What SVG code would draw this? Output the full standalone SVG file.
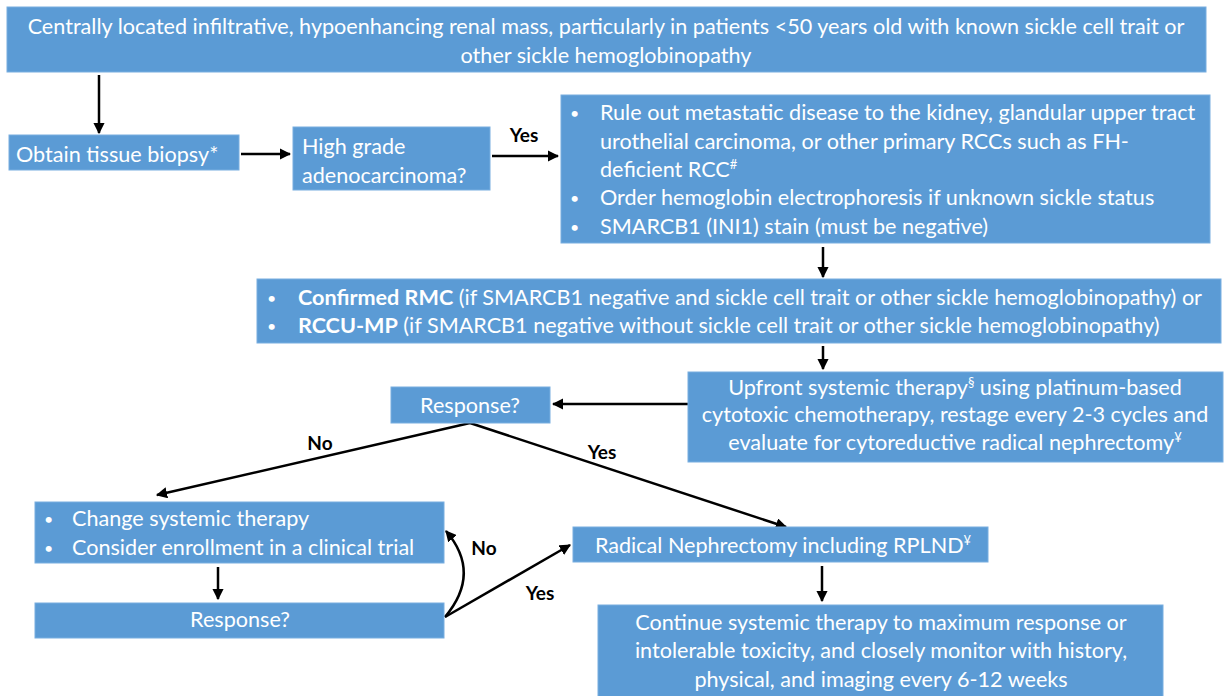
<svg xmlns="http://www.w3.org/2000/svg" width="1231" height="696" viewBox="0 0 1231 696">
<defs>
<style>
.box{fill:#5B9BD5;stroke:#79AEE0;stroke-width:1}
.t{font-family:Lato,"Liberation Sans",sans-serif;font-size:21.6px;fill:#FFFFFF}
.bu{font-family:Lato,"Liberation Sans",sans-serif;font-size:16px;fill:#FFFFFF}
.c{text-anchor:middle}
.b{font-weight:bold}
.sup{font-size:13px}
.lbl{font-family:Lato,"Liberation Sans",sans-serif;font-size:19px;font-weight:bold;fill:#000000}
.ln{stroke:#000000;stroke-width:2.5;fill:none}
</style>
<marker id="ah" viewBox="0 0 10 10" refX="9" refY="5" markerWidth="4.5" markerHeight="4.5" orient="auto" markerUnits="strokeWidth">
<path d="M0,0 L10,5 L0,10 z" fill="#000000"/>
</marker>
</defs>
<rect width="1231" height="696" fill="#FFFFFF"/>

<g id="connectors">
<line class="ln" x1="99" y1="75" x2="99" y2="133" marker-end="url(#ah)"/>
<line class="ln" x1="241" y1="154" x2="290" y2="154" marker-end="url(#ah)"/>
<line class="ln" x1="492" y1="156" x2="558" y2="156" marker-end="url(#ah)"/>
<line class="ln" x1="823" y1="247" x2="823" y2="277" marker-end="url(#ah)"/>
<line class="ln" x1="823" y1="346" x2="823" y2="369" marker-end="url(#ah)"/>
<line class="ln" x1="688" y1="404" x2="553" y2="404" marker-end="url(#ah)"/>
<line class="ln" x1="470" y1="423" x2="157" y2="495" marker-end="url(#ah)"/>
<line class="ln" x1="470" y1="423" x2="786" y2="527" marker-end="url(#ah)"/>
<line class="ln" x1="218" y1="567" x2="218" y2="599" marker-end="url(#ah)"/>
<path class="ln" d="M445,617 Q482,573 446,531" marker-end="url(#ah)"/>
<line class="ln" x1="445" y1="617" x2="570" y2="545" marker-end="url(#ah)"/>
<line class="ln" x1="822" y1="566" x2="822" y2="601" marker-end="url(#ah)"/>
<text class="lbl" x="524" y="142" text-anchor="middle">Yes</text>
<text class="lbl" x="320" y="450" text-anchor="middle">No</text>
<text class="lbl" x="602" y="459" text-anchor="middle">Yes</text>
<text class="lbl" x="484" y="555" text-anchor="middle">No</text>
<text class="lbl" x="540" y="600" text-anchor="middle">Yes</text>
</g>

<g id="node-presentation">
<rect class="box" x="7" y="7" width="1199" height="65"/>
<text class="t c" x="606" y="34">Centrally located infiltrative, hypoenhancing renal mass, particularly in patients &lt;50 years old with known sickle cell trait or</text>
<text class="t c" x="606" y="63">other sickle hemoglobinopathy</text>
</g>

<g id="node-biopsy">
<rect class="box" x="9" y="135" width="230" height="35"/>
<text class="t" x="16" y="162">Obtain tissue biopsy*</text>
</g>

<g id="node-highgrade">
<rect class="box" x="293" y="127" width="197" height="63"/>
<text class="t" x="302" y="154">High grade</text>
<text class="t" x="302" y="183">adenocarcinoma?</text>
</g>

<g id="node-ruleout">
<rect class="box" x="561" y="95" width="649" height="148"/>
<text class="bu" x="570" y="119">•</text>
<text class="t" x="600" y="120">Rule out metastatic disease to the kidney, glandular upper tract</text>
<text class="t" x="600" y="149">urothelial carcinoma, or other primary RCCs such as FH-</text>
<text class="t" x="600" y="177">deficient RCC<tspan class="sup" dy="-8">#</tspan></text>
<text class="bu" x="570" y="204">•</text>
<text class="t" x="600" y="205">Order hemoglobin electrophoresis if unknown sickle status</text>
<text class="bu" x="570" y="233">•</text>
<text class="t" x="600" y="234">SMARCB1 (INI1) stain (must be negative)</text>
</g>

<g id="node-confirmed">
<rect class="box" x="257" y="279" width="964" height="64"/>
<text class="bu" x="267" y="304">•</text>
<text class="t" x="298" y="305"><tspan class="b">Confirmed RMC</tspan> (if SMARCB1 negative and sickle cell trait or other sickle hemoglobinopathy) or</text>
<text class="bu" x="267" y="332">•</text>
<text class="t" x="298" y="333"><tspan class="b">RCCU-MP</tspan> (if SMARCB1 negative without sickle cell trait or other sickle hemoglobinopathy)</text>
</g>

<g id="node-upfront">
<rect class="box" x="688" y="372" width="535" height="90"/>
<text class="t c" x="955" y="395">Upfront systemic therapy<tspan class="sup" dy="-8">§</tspan><tspan dy="8"> using platinum-based</tspan></text>
<text class="t c" x="955" y="422">cytotoxic chemotherapy, restage every 2-3 cycles and</text>
<text class="t c" x="955" y="450">evaluate for cytoreductive radical nephrectomy<tspan class="sup" dy="-8">¥</tspan></text>
</g>

<g id="node-response1">
<rect class="box" x="391" y="387" width="159" height="36"/>
<text class="t c" x="470" y="413">Response?</text>
</g>

<g id="node-change">
<rect class="box" x="35" y="502" width="409" height="61"/>
<text class="bu" x="44" y="525">•</text>
<text class="t" x="72" y="526">Change systemic therapy</text>
<text class="bu" x="44" y="554">•</text>
<text class="t" x="72" y="555">Consider enrollment in a clinical trial</text>
</g>

<g id="node-response2">
<rect class="box" x="35" y="603" width="409" height="35"/>
<text class="t c" x="240" y="627">Response?</text>
</g>

<g id="node-radical">
<rect class="box" x="573" y="527" width="415" height="35"/>
<text class="t c" x="783" y="553">Radical Nephrectomy including RPLND<tspan class="sup" dy="-8">¥</tspan></text>
</g>

<g id="node-continue">
<rect class="box" x="598" y="605" width="565" height="95"/>
<text class="t c" x="881" y="630">Continue systemic therapy to maximum response or</text>
<text class="t c" x="881" y="658">intolerable toxicity,  and closely monitor with history,</text>
<text class="t c" x="881" y="687">physical, and imaging every 6-12 weeks</text>
</g>
</svg>
